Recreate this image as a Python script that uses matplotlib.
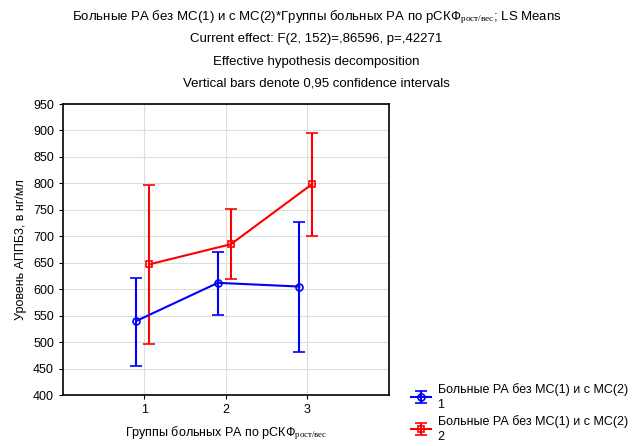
import matplotlib
matplotlib.use("Agg")
import matplotlib.pyplot as plt

plt.rcParams['font.family'] = ['Liberation Sans', 'DejaVu Sans']
plt.rcParams['mathtext.fontset'] = 'custom'
plt.rcParams['mathtext.rm'] = 'Liberation Serif'
plt.rcParams['mathtext.it'] = 'Liberation Serif'

# данные LS Means и 95% доверительные интервалы
groups = [1, 2, 3]
mean_1 = [540, 612, 605]
low_1 = [455, 552, 481]
high_1 = [622, 670, 727]
mean_2 = [647, 685, 799]
low_2 = [497, 619, 700]
high_2 = [797, 752, 895]

series_label = "Больные РА без МС(1) и с МС(2)"
sub = r"$_{\mathrm{рост/вес}}$"

fig = plt.figure(figsize=(6.33, 4.46), dpi=100)
ax = fig.add_axes([0.0995, 0.1143, 0.515, 0.6525])

def err(m, lo, hi):
    return [[a - b for a, b in zip(m, lo)], [c - a for a, c in zip(m, hi)]]

x1 = [g - 0.1 for g in groups]
x2 = [g + 0.06 for g in groups]
e1 = ax.errorbar(x1, mean_1, yerr=err(mean_1, low_1, high_1), color='blue',
                 marker='o', mfc='none', ms=5, mew=1.2, lw=1.5, capsize=4,
                 capthick=1.5, elinewidth=1.5, label=series_label + "\n1", zorder=3)
e2 = ax.errorbar(x2, mean_2, yerr=err(mean_2, low_2, high_2), color='red',
                 marker='s', mfc='none', ms=5, mew=1.2, lw=1.5, capsize=4,
                 capthick=1.5, elinewidth=1.5, label=series_label + "\n2", zorder=3)

ax.set_xlim(0, 4)
ax.set_ylim(400, 950)
ax.set_xticks(groups)
ax.set_yticks(range(400, 951, 50))
ax.grid(True, color='#dddddd', lw=0.8)
ax.set_axisbelow(True)
ax.tick_params(labelsize=9, length=3, direction='out')
for s in ax.spines.values():
    s.set_linewidth(1.2)

ax.set_ylabel("Уровень АППБ3, в нг/мл", fontsize=9)
ax.set_xlabel("Группы больных РА по рСКФ" + sub, fontsize=9, labelpad=6)

titles = [
    "Больные РА без МС(1) и с МС(2)*Группы больных РА по рСКФ" + sub + "; LS Means",
    "Current effect: F(2, 152)=,86596, p=,42271",
    "Effective hypothesis decomposition",
    "Vertical bars denote 0,95 confidence intervals",
]
for i, t in enumerate(titles):
    fig.text(0.5, 1 - (17 + i * 22.3) / 446, t, ha='center', va='center', fontsize=9.5)

leg = fig.legend(handles=[e1, e2], loc='lower left', bbox_to_anchor=(400 / 633, -0.018),
                 frameon=False, fontsize=9, handlelength=1.6, labelspacing=0.3,
                 handletextpad=0.5)
for t in leg.get_texts():
    t.set_linespacing(1.35)

fig.savefig("out.png", dpi=100)
